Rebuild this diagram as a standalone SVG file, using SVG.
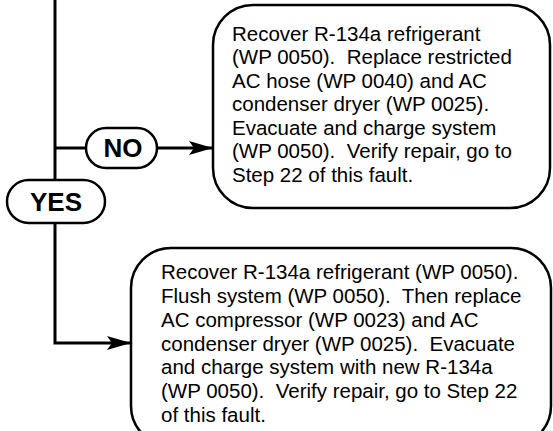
<svg xmlns="http://www.w3.org/2000/svg" width="553" height="431" viewBox="0 0 553 431">
<defs>
<marker id="arrow" markerUnits="userSpaceOnUse" viewBox="0 0 24 14" refX="24" refY="7" markerWidth="24" markerHeight="14" orient="auto">
<path d="M0,0 L24,7 L0,14 L5,7 Z" fill="#000"/>
</marker>
</defs>
<style>
.box{fill:#fff;stroke:#000;stroke-width:2.5}
.pill{fill:#fff;stroke:#000;stroke-width:2.5}
.conn{fill:none;stroke:#000;stroke-width:3}
.body{font-family:"Liberation Sans",Arial,sans-serif;font-size:20.5px;fill:#000;white-space:pre}
.lbl{font-family:"Liberation Sans",Arial,sans-serif;font-size:26px;font-weight:bold;fill:#000;text-anchor:middle}
</style>
<g id="connectors">
<path class="conn" d="M55,0 V180"/>
<path class="conn" d="M55,148 H86"/>
<path class="conn" d="M157,148 H213" marker-end="url(#arrow)"/>
<path class="conn" d="M55,223 V343 H131" marker-end="url(#arrow)"/>
</g>
<g id="no">
<rect class="pill" x="86" y="128" width="71" height="40" rx="20"/>
<text class="lbl" x="123" y="157.3">NO</text>
</g>
<g id="yes">
<rect class="pill" x="7" y="180" width="98" height="43" rx="21.5"/>
<text class="lbl" x="56" y="211">YES</text>
</g>
<g id="box1">
<rect class="box" x="213" y="5" width="337" height="203" rx="40"/>
<text class="body" x="232" y="40.5">Recover R-134a refrigerant</text>
<text class="body" x="232" y="64">(WP 0050).  Replace restricted</text>
<text class="body" x="232" y="87.5">AC hose (WP 0040) and AC</text>
<text class="body" x="232" y="111">condenser dryer (WP 0025).</text>
<text class="body" x="232" y="134.5">Evacuate and charge system</text>
<text class="body" x="232" y="158">(WP 0050).  Verify repair, go to</text>
<text class="body" x="232" y="181.5">Step 22 of this fault.</text>
</g>
<g id="box2">
<rect class="box" x="131" y="248" width="420" height="198" rx="40"/>
<text class="body" x="161" y="279">Recover R-134a refrigerant (WP 0050).</text>
<text class="body" x="161" y="303">Flush system (WP 0050).  Then replace</text>
<text class="body" x="161" y="327">AC compressor (WP 0023) and AC</text>
<text class="body" x="161" y="350.5">condenser dryer (WP 0025).  Evacuate</text>
<text class="body" x="161" y="374">and charge system with new R-134a</text>
<text class="body" x="161" y="398">(WP 0050).  Verify repair, go to Step 22</text>
<text class="body" x="161" y="422">of this fault.</text>
</g>
</svg>
